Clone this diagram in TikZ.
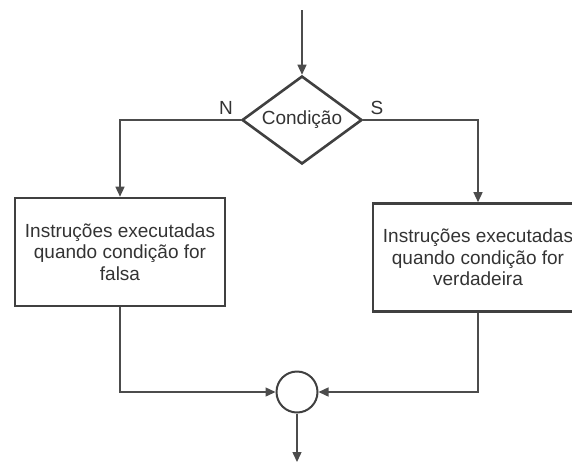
\documentclass[tikz,border=0pt]{standalone}
\usepackage{fontspec}
\setmainfont{Liberation Sans}
\usetikzlibrary{shapes.geometric,arrows.meta}

\tikzset{
    seta/.style={line width=1.4pt, draw=black!70, -{Triangle[length=10pt,width=9pt]}},
    bloco/.style={draw=black!75, line width=2.6pt, minimum width=210pt, minimum height=108pt,
        align=center, text=black!80, font=\fontsize{19}{21.5}\selectfont},
    rotulo/.style={text=black!80, font=\fontsize{19}{21.5}\selectfont},
}

\begin{document}
\begin{tikzpicture}[x=1pt, y=-1pt]
    \useasboundingbox (0, 0) rectangle (572, 464);

    \coordinate (inicio) at (302, 10);
    \node [diamond, draw=black!75, line width=2.6pt, inner sep=0pt, aspect=1.36,
           minimum width=120pt, minimum height=88pt, rotulo] (cond) at (302, 120) {Condição};
    \node [rotulo] (nao) at (226, 108) {N};
    \node [rotulo] (sim) at (377, 108) {S};

    \node [bloco] (falsa) at (120, 252) {Instruções executadas\\quando condição for\\falsa};
    \node [bloco] (verdade) at (478, 257.5) {Instruções executadas\\quando condição for\\verdadeira};

    \node [circle, draw=black!75, line width=2pt, minimum size=41pt, inner sep=0pt] (junta) at (297, 392) {};
    \coordinate (fim) at (297, 462);

    \draw [seta] (inicio) -- (cond.north);
    \draw [seta] (cond.west) -| (falsa.north);
    \draw [seta] (cond.east) -| (verdade.north);
    \draw [seta] (falsa.south) |- (junta.west);
    \draw [seta] (verdade.south) |- (junta.east);
    \draw [seta] (junta.south) -- (fim);
\end{tikzpicture}
\end{document}
